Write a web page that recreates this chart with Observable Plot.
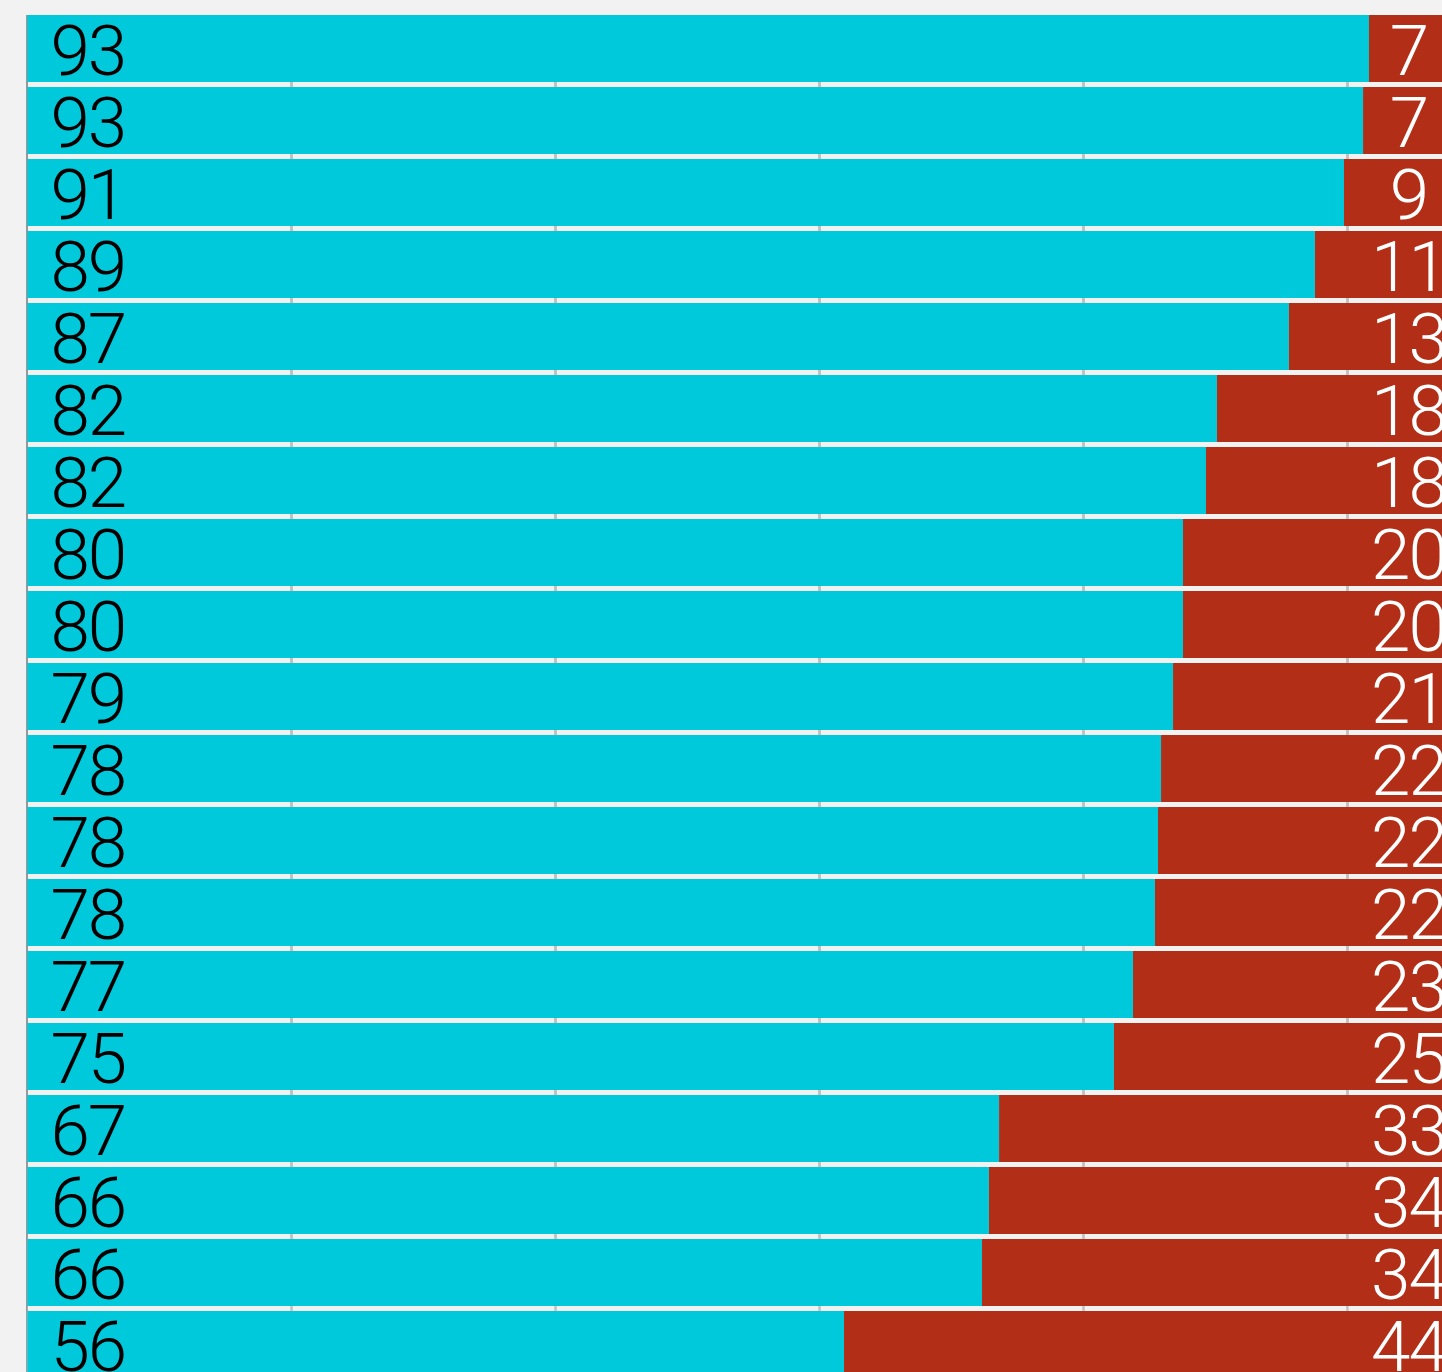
<!DOCTYPE html>
<html>
<head>
<meta charset="utf-8">
<script src="https://cdn.jsdelivr.net/npm/d3@7"></script>
<script src="https://cdn.jsdelivr.net/npm/@observablehq/plot@0.6"></script>
<style>
  html, body { margin: 0; padding: 0; background: #f2f2f2; overflow: hidden; }
  #chart svg { display: block; }
  #chart svg text { letter-spacing: -2px; }
</style>
</head>
<body>
<div id="chart"></div>
<script>
// Share of the blue (left) part of each bar
const cyanValues = [92.85, 92.44, 91.12, 89.11, 87.31, 82.33, 81.57, 79.98, 79.98, 79.29,
                    78.46, 78.25, 78.04, 76.52, 75.20, 67.25, 66.55, 66.07, 56.52];
// Printed labels
const cyanLabels = [93, 93, 91, 89, 87, 82, 82, 80, 80, 79, 78, 78, 78, 77, 75, 67, 66, 66, 56];
const redLabels  = [7, 7, 9, 11, 13, 18, 18, 20, 20, 21, 22, 22, 22, 23, 25, 33, 34, 34, 44];
// Vertical gridline positions (in bar units)
const gridTicks = [18.25, 36.52, 54.79, 73.06, 91.32];

const rows = cyanValues.map((v, i) => ({
  i, cyan: v, red: 100 - v, cyanLabel: String(cyanLabels[i]), redLabel: String(redLabels[i])
}));
const gridRows = rows.flatMap(r => gridTicks.map(t => ({i: r.i, x: t})));

const CYAN = "#00c9db", RED = "#b22e17";
const n = rows.length, p = 0.0723, step = 72.22;

const chart = Plot.plot({
  width: 1442,
  height: 1372,
  margin: 0,
  style: {background: "#f2f2f2", fontFamily: "Roboto, 'Noto Sans', sans-serif"},
  x: {domain: [0, 100], range: [27.3, 27.3 + 1445], axis: null},
  y: {domain: d3.range(n), range: [13, 13 + step * (n - p)], paddingInner: p, paddingOuter: 0, axis: null},
  marks: [
    Plot.ruleX(gridRows, {x: "x", y: "i", insetBottom: -6, stroke: "#c2c2c2", strokeWidth: 2}),
    Plot.ruleX(rows, {x: 0, y: "i", insetBottom: -6, dx: -1, stroke: "#999999", strokeWidth: 1.5}),
    Plot.barX(rows, {x1: 0, x2: "cyan", y: "i", fill: CYAN, clip: true}),
    Plot.barX(rows, {x1: "cyan", x2: 100, y: "i", fill: RED, clip: true}),
    Plot.text(rows, {x: 4.15, y: "i", text: "cyanLabel", fill: "#000", fontSize: 71, fontWeight: 300, dy: 3.5, clip: true}),
    Plot.text(rows, {x: 95.55, y: "i", text: "redLabel", fill: "#fff", fontSize: 71, fontWeight: 300, dy: 3.5, clip: true})
  ]
});
document.getElementById("chart").append(chart);
</script>
</body>
</html>
